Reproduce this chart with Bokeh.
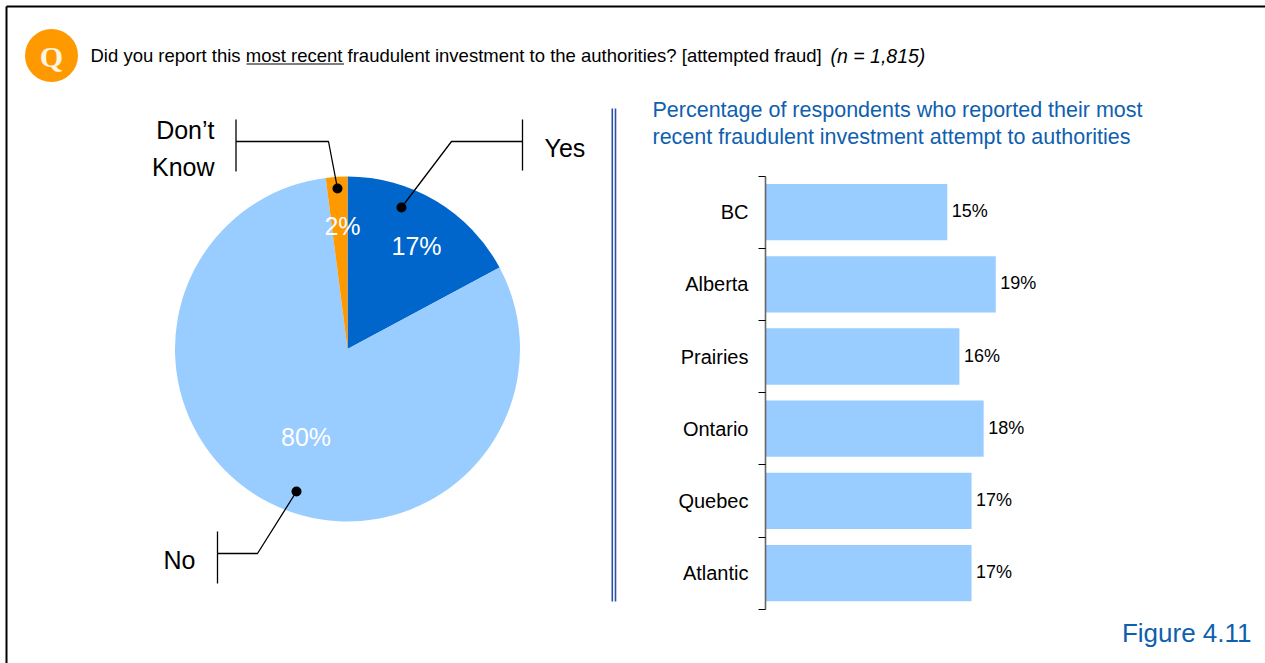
from bokeh.plotting import figure
from bokeh.embed import file_html
from bokeh.resources import INLINE
from bokeh.layouts import row
from bokeh.models import Range1d, LinearAxis, FixedTicker
from bokeh.core.properties import value
import math

# ---- data ----
pie_labels = ["Yes", "No", "Don't Know"]
pie_values = [17, 80, 2]
pie_colors = ["#0066CC", "#99CCFF", "#FF9900"]
pie_texts = ["17%", "80%", "2%"]

regions = ["BC", "Alberta", "Prairies", "Ontario", "Quebec", "Atlantic"]
region_values = [15, 19, 16, 18, 17, 17]

question = "Did you report this most recent fraudulent investment to the authorities? [attempted fraud]"
sample = "(n = 1,815)"
chart_title = ["Percentage of respondents who reported their most",
               "recent fraudulent investment attempt to authorities"]
figure_label = "Figure 4.11"

W, H = 1265, 663
FONT = value("Liberation Sans")
TITLE_BLUE = "#0F5FAF"


def Y(px):
    return H - px


# ---- background figure: everything but the bars ----
p = figure(width=W, height=H, output_backend="svg", toolbar_location=None,
           x_range=Range1d(0, W), y_range=Range1d(0, H),
           min_border=0, outline_line_color=None, x_axis_location=None, y_axis_location=None,
           background_fill_color="white", border_fill_color="white")
p.grid.visible = False
p.margin = 0

# frame lines
p.line([6, 6], [Y(6), Y(H)], line_color="black", line_width=2)
p.line([6, W], [Y(6), Y(6)], line_color="black", line_width=2)

# Q badge
p.scatter([51], [Y(55)], size=53, marker="circle", fill_color="#FF9900", line_color=None)
p.text([51], [Y(56)], text=["Q"], text_font=value("Liberation Serif"), text_font_style="bold",
       text_font_size="30px", text_color="#FFF4E0", text_align="center", text_baseline="middle")

# question
p.text([90], [Y(55)], text=[question], text_font=FONT, text_font_size="18.5px", text_color="black",
       text_baseline="middle")
p.line([246, 343.5], [Y(63.5), Y(63.5)], line_color="black", line_width=1)
p.text([830], [Y(55)], text=[sample], text_font=FONT, text_font_style="italic", text_font_size="19.5px",
       text_color="black", text_baseline="middle")

# pie, clockwise from the top
total = sum(pie_values)
cx, cy, r = 347, Y(348.5), 172.5
start = math.pi / 2
for v, c in zip(pie_values, pie_colors):
    end = start - 2 * math.pi * v / total
    p.wedge([cx], [cy], radius=r, start_angle=end, end_angle=start, fill_color=c, line_color=None)
    start = end

for txt, x, y in zip(pie_texts, [416, 305.5, 342], [245, 436, 225]):
    p.text([x], [Y(y)], text=[txt], text_font=FONT, text_font_size="25px", text_color="white",
           text_align="center", text_baseline="middle")

# leaders
for xs, ys in [([235.5, 235.5], [119, 171]), ([235.5, 328, 337], [141, 141, 188]),
               ([522, 522], [119, 170]), ([522, 451, 401], [141, 141, 207]),
               ([217, 217], [531, 583]), ([217, 257, 296], [553, 553, 491])]:
    p.line(xs, [Y(v) for v in ys], line_color="black", line_width=1.3)
p.scatter([337, 401, 296], [Y(188), Y(207), Y(491)], size=10, marker="circle",
          fill_color="black", line_color=None)

for txt, x, y, al in [("Don\u2019t", 214, 129, "right"), ("Know", 214, 166, "right"),
                      ("Yes", 544, 147, "left"), ("No", 195, 559, "right")]:
    p.text([x], [Y(y)], text=[txt], text_font=FONT, text_font_size="25px", text_color="black",
           text_align=al, text_baseline="middle")

# separator
for x in (611.8, 615):
    p.line([x, x], [Y(108), Y(601)], line_color="#2A4FA5", line_width=1.6)

# titles
for line, y in zip(chart_title, [109, 136]):
    p.text([652], [Y(y)], text=[line], text_font=FONT, text_font_size="21.5px", text_color=TITLE_BLUE,
           text_baseline="middle")
p.text([1251], [Y(632)], text=[figure_label], text_font=FONT, text_font_size="26px", text_color=TITLE_BLUE,
       text_align="right", text_baseline="middle")

# ---- bar figure, laid over the right-hand part ----
PX_PER_PCT = 12.12
PITCH = 72.2
AX_X, TOP = 765, 175.5
LEFT = 640
q = figure(width=W - LEFT, height=H, output_backend="svg", toolbar_location=None,
           x_range=Range1d(0, (W - AX_X) / PX_PER_PCT),
           y_range=Range1d((H - TOP) / PITCH, -TOP / PITCH),
           min_border=0, min_border_left=AX_X - LEFT, outline_line_color=None,
           x_axis_location=None, y_axis_location=None,
           background_fill_alpha=0, border_fill_alpha=0)
q.grid.visible = False
q.margin = (0, 0, 0, LEFT - W)

centers = [i + 0.5 for i in range(len(regions))]
q.hbar(y=centers, right=region_values, left=0, height=0.78, fill_color="#99CCFF", line_color=None)
q.text(x=region_values, y=centers, text=[f"{v}%" for v in region_values], x_offset=4.5, y_offset=-1,
       text_font=FONT, text_font_size="18px", text_color="black", text_align="left", text_baseline="middle")

ax = LinearAxis(bounds=(0, len(regions)))
ax.ticker = FixedTicker(ticks=centers, minor_ticks=list(range(len(regions) + 1)))
ax.major_label_overrides = {c: n for c, n in zip(centers, regions)}
ax.major_tick_out = 0
ax.major_tick_in = 0
ax.minor_tick_out = 7
ax.minor_tick_in = 0
ax.minor_tick_line_color = "black"
ax.minor_tick_line_width = 1
ax.axis_line_color = "#666666"
ax.axis_line_width = 1.6
ax.major_label_standoff = 10
ax.major_label_text_font = "Liberation Sans"
ax.major_label_text_font_size = "20px"
ax.major_label_text_color = "black"
q.add_layout(ax, "left")

layout = row(p, q, spacing=0)
layout.margin = 0
open("out.html", "w").write(file_html(layout, INLINE))
